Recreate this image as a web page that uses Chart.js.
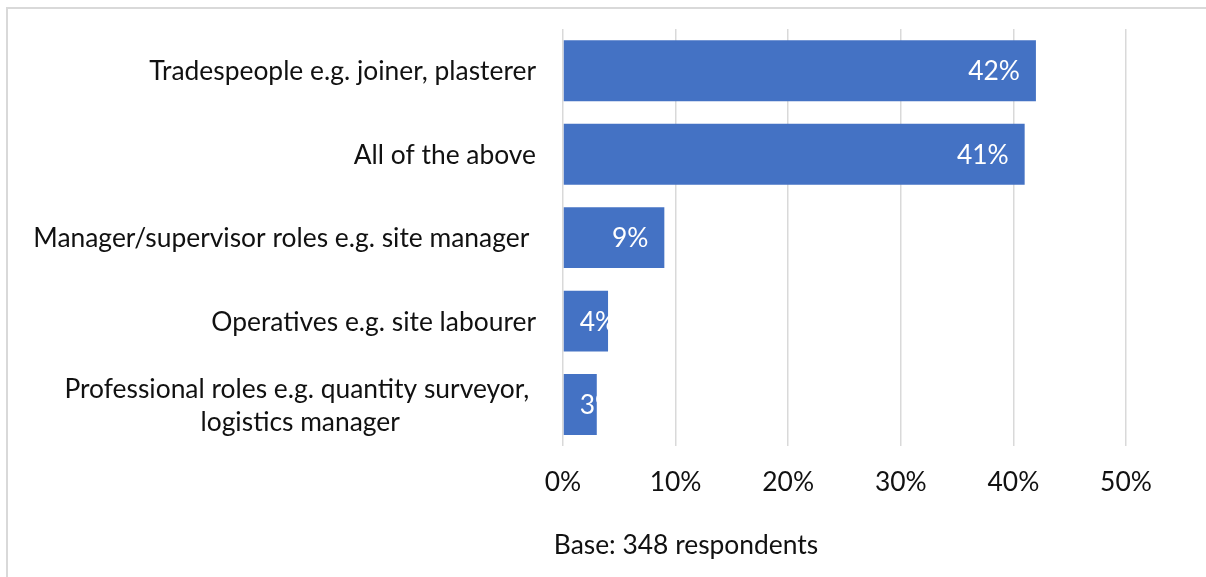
<!DOCTYPE html>
<html>
<head>
<meta charset="utf-8">
<script src="https://cdn.jsdelivr.net/npm/chart.js@4.4.1/dist/chart.umd.min.js"></script>
<style>
html, body { margin: 0; padding: 0; background: #fff; overflow: hidden; }
canvas { display: block; }
</style>
</head>
<body>
<canvas id="myChart" width="1206" height="577"></canvas>
<script>
// survey answers, top to bottom
var categories = [
  "Tradespeople e.g. joiner, plasterer",
  "All of the above",
  "Manager/supervisor roles e.g. site manager ",
  "Operatives e.g. site labourer",
  ["Professional roles e.g. quantity surveyor, ", "logistics manager"]
];
var shares = [42, 41, 9, 4, 3];
var axisMax = 50;
var axisStep = 10;
var baseNote = "Base: 348 respondents";

var fontFamily = "Lato, 'Open Sans', sans-serif";
var fontSize = 26.4;
var barColor = "#4472C4";
var gridColor = "#d9d9d9";

// labels on the left plus the value inside each bar
var labelPlugin = {
  id: "labels",
  beforeDraw: function(chart) {
    // grey frame along the top and left edge
    var ctx = chart.ctx;
    ctx.save();
    ctx.fillStyle = "#d9d9d9";
    ctx.fillRect(6, 7, chart.width - 6, 2);
    ctx.fillRect(6, 7, 2, chart.height - 7);
    ctx.restore();
  },
  afterDatasetsDraw: function(chart) {
    var ctx = chart.ctx;
    var meta = chart.getDatasetMeta(0);
    ctx.save();
    ctx.font = fontSize + "px " + fontFamily;
    ctx.fillStyle = "#ffffff";
    ctx.textBaseline = "middle";
    ctx.textAlign = "left";
    meta.data.forEach(function(bar, i) {
      var txt = shares[i] + "%";
      var w = ctx.measureText(txt).width;
      var x = Math.max(bar.x - 16 - w, bar.base + 16);
      ctx.fillText(txt, x, bar.y + 1);
    });
    ctx.restore();
  },
  afterDraw: function(chart) {
    var ctx = chart.ctx;
    var y = chart.scales.y;
    var right = chart.chartArea.left - 27;
    var lineH = 33;
    ctx.save();
    ctx.font = fontSize + "px " + fontFamily;
    ctx.fillStyle = "#111111";
    ctx.textBaseline = "middle";
    categories.forEach(function(label, i) {
      var cy = y.getPixelForValue(i) + 1;
      if (Array.isArray(label)) {
        var widest = 0;
        label.forEach(function(l) { widest = Math.max(widest, ctx.measureText(l).width); });
        var cx = right - widest / 2;
        ctx.textAlign = "center";
        label.forEach(function(l, k) {
          ctx.fillText(l, cx, cy + (k - (label.length - 1) / 2) * lineH);
        });
      } else {
        ctx.textAlign = "right";
        ctx.fillText(label, right, cy);
      }
    });
    ctx.textAlign = "center";
    ctx.fillText(baseNote, 686, 545);
    ctx.restore();
  }
};

new Chart("myChart", {
  type: "bar",
  data: {
    labels: categories,
    datasets: [{
      data: shares,
      backgroundColor: barColor,
      barPercentage: 0.73,
      categoryPercentage: 1
    }]
  },
  options: {
    indexAxis: "y",
    responsive: false,
    animation: false,
    layout: {
      padding: { left: 563, right: 80, top: 29, bottom: 59 }
    },
    scales: {
      x: {
        min: 0,
        max: axisMax,
        border: { display: false },
        grid: { color: gridColor, lineWidth: 1.5, drawTicks: false },
        ticks: {
          stepSize: axisStep,
          padding: 20,
          color: "#111111",
          font: { family: fontFamily, size: fontSize },
          callback: function(v) { return v + "%"; }
        }
      },
      y: { display: false }
    },
    plugins: {
      legend: { display: false },
      tooltip: { enabled: false }
    }
  },
  plugins: [labelPlugin]
});
</script>
</body>
</html>
